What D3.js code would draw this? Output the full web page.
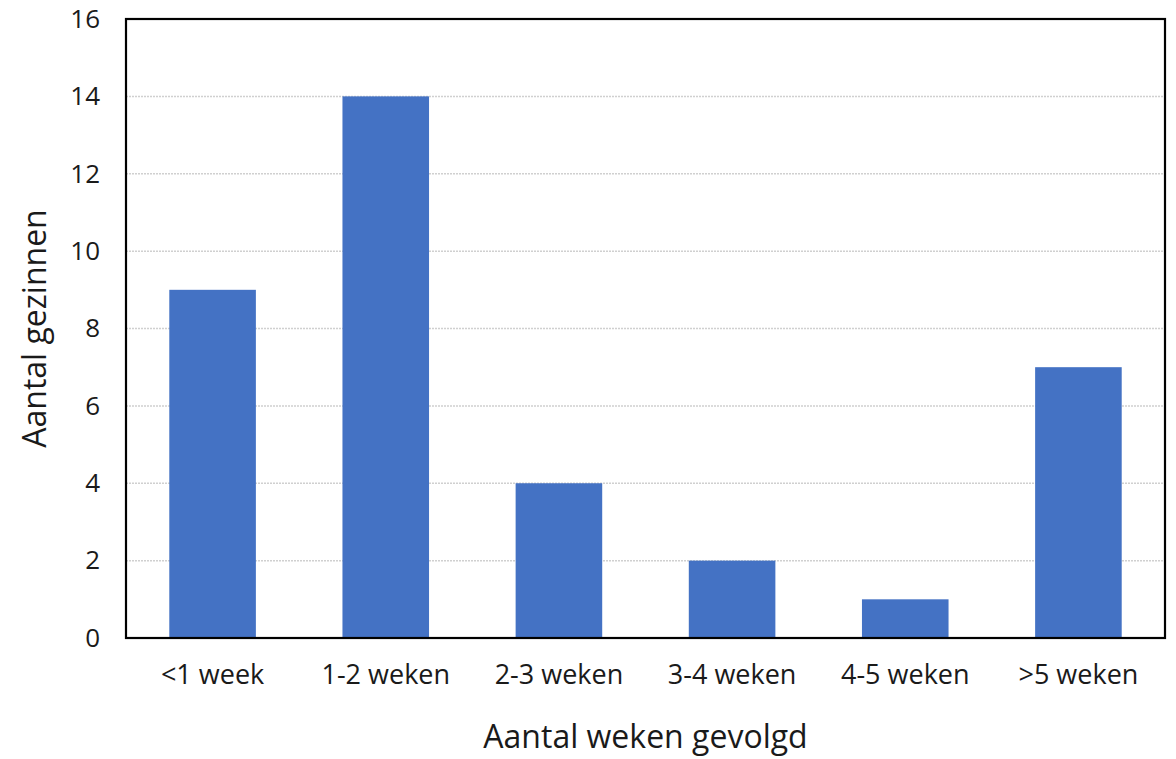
<!DOCTYPE html>
<html><head><meta charset="utf-8">
<script src="https://cdn.jsdelivr.net/npm/d3@7"></script>
<style>body{margin:0;background:#fff}svg{display:block}text{font-family:"Open Sans","Noto Sans",sans-serif;fill:#1a1a1a}</style>
</head><body>
<svg id="c" width="1176" height="759"></svg>
<script>
const categories = ["<1 week","1-2 weken","2-3 weken","3-4 weken","4-5 weken",">5 weken"];
const values = [9,14,4,2,1,7];
const yTicks = [0,2,4,6,8,10,12,14,16];
const xTitle = "Aantal weken gevolgd";
const yTitle = "Aantal gezinnen";

const svg = d3.select("#c");
const m = {l:126, r:1165, t:19, b:638};
const x = d3.scaleBand().domain(categories).range([m.l,m.r]).paddingInner(0.5).paddingOuter(0.25);
const y = d3.scaleLinear().domain([0,16]).range([m.b,m.t]);

svg.append("g").selectAll("line").data(yTicks.filter(d=>d>0&&d<16)).join("line")
  .attr("x1",m.l).attr("x2",m.r).attr("y1",d=>y(d)).attr("y2",d=>y(d))
  .attr("stroke","#d0d0d0").attr("stroke-width",1.5).attr("stroke-dasharray","2,1");

svg.append("g").selectAll("rect").data(values).join("rect")
  .attr("x",(d,i)=>x(categories[i])).attr("width",x.bandwidth())
  .attr("y",d=>y(d)).attr("height",d=>y(0)-y(d)).attr("fill","#4472C4");

svg.append("rect").attr("x",m.l).attr("y",m.t).attr("width",m.r-m.l).attr("height",m.b-m.t)
  .attr("fill","none").attr("stroke","#000").attr("stroke-width",2.2);

const ya = svg.append("g").attr("transform",`translate(${m.l},0)`)
  .call(d3.axisLeft(y).tickValues(yTicks).tickSize(0).tickPadding(26));
ya.select(".domain").remove();
ya.selectAll("text").style("font-size","26px").attr("fill","#1a1a1a");

const xa = svg.append("g").attr("transform",`translate(0,${m.b})`)
  .call(d3.axisBottom(x).tickSize(0).tickPadding(27));
xa.select(".domain").remove();
xa.selectAll("text").style("font-size","27px").attr("fill","#1a1a1a");

svg.append("text").attr("x",(m.l+m.r)/2).attr("y",748).attr("text-anchor","middle")
  .style("font-size","32px").text(xTitle);
svg.append("text").attr("transform",`translate(46,${(m.t+m.b)/2}) rotate(-90)`).attr("text-anchor","middle")
  .style("font-size","32px").text(yTitle);
</script>
</body></html>
